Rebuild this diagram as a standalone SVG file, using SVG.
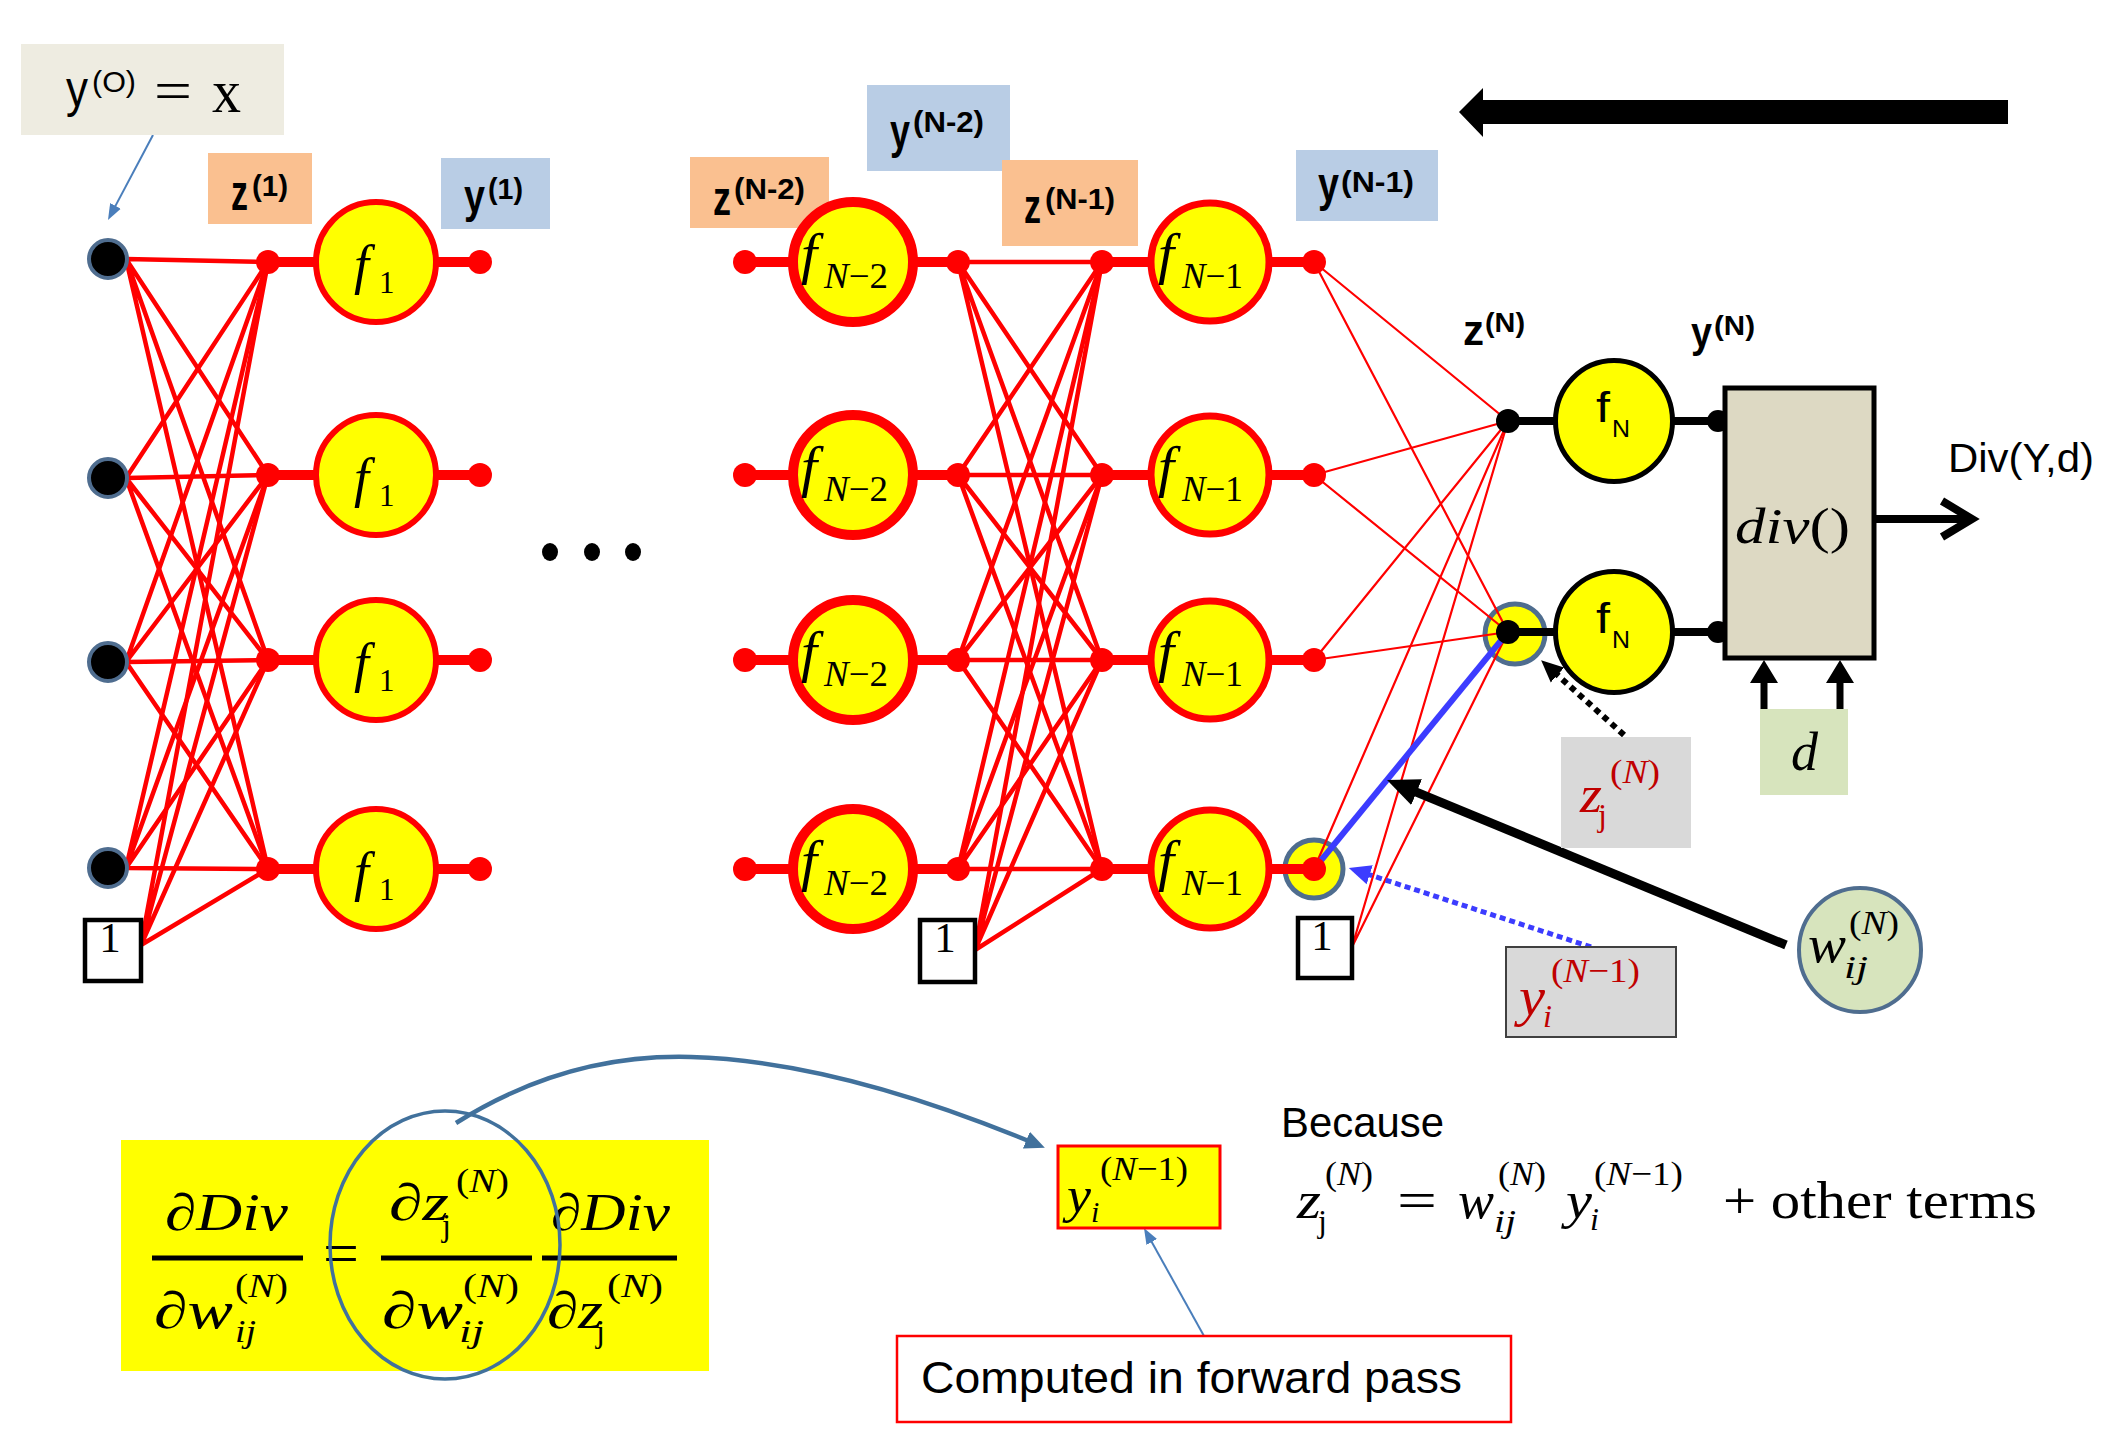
<svg xmlns="http://www.w3.org/2000/svg" width="2112" height="1447" viewBox="0 0 2112 1447">
<defs>
<style>
.sans{font-family:"Liberation Sans",Arial,sans-serif;fill:#000}
.b{font-family:"Liberation Sans",Arial,sans-serif;font-weight:bold;fill:#000}
.it{font-family:"Liberation Serif","Times New Roman",serif;font-style:italic;fill:#000}
.rm{font-family:"Liberation Serif","Times New Roman",serif;font-style:normal;fill:#000}
.dr{fill:#C00000}
.w1{stroke:#FF0000;stroke-width:4.5;fill:none}
.w2{stroke:#FF0000;stroke-width:2.2;fill:none}
.thick{stroke:#FF0000;stroke-width:10}
.thickb{stroke:#000;stroke-width:8}
.dot{fill:#FF0000}
.fc{fill:#FFFF00;stroke:#FF0000}
.fn{fill:#FFFF00;stroke:#000;stroke-width:5}
.inp{fill:#000;stroke:#4F6D8F;stroke-width:4}
.bias{fill:#fff;stroke:#000;stroke-width:4.5}
.ring{fill:#FFFF00;stroke:#4F6D8F;stroke-width:5}
.zbox{fill:#FAC090}
.ybox{fill:#B9CDE5}
.gbox{fill:#D9D9D9}
.bar{stroke:#000;stroke-width:5}
</style>
<marker id="ahK" markerUnits="userSpaceOnUse" markerWidth="34" markerHeight="30" refX="12" refY="15" orient="auto"><path d="M0,1 L32,15 L0,29 z" fill="#000"/></marker>
<marker id="ahKs" markerUnits="userSpaceOnUse" markerWidth="24" markerHeight="22" refX="6" refY="11" orient="auto"><path d="M0,1 L22,11 L0,21 z" fill="#000"/></marker>
<marker id="ahB" markerUnits="userSpaceOnUse" markerWidth="24" markerHeight="22" refX="6" refY="11" orient="auto"><path d="M0,1 L22,11 L0,21 z" fill="#3C3CFF"/></marker>
<marker id="ahT" markerUnits="userSpaceOnUse" markerWidth="18" markerHeight="14" refX="4" refY="7" orient="auto"><path d="M0,1 L16,7 L0,13 z" fill="#4A7EBB"/></marker>
<marker id="ahC" markerUnits="userSpaceOnUse" markerWidth="22" markerHeight="20" refX="5" refY="10" orient="auto"><path d="M0,1 L20,10 L0,19 z" fill="#41719C"/></marker>
</defs>
<rect width="2112" height="1447" fill="#fff"/>

<g id="ring-y">
<circle class="ring" cx="1314" cy="869" r="29"/>
</g>
<g id="ring-z">
<circle class="ring" cx="1515" cy="634" r="30"/>
</g>

<g id="connectors">
<g class="w1">
<path d="M126,259L268,262M126,259L268,475M126,259L268,660M126,259L268,869"/>
<path d="M126,478L268,262M126,478L268,475M126,478L268,660M126,478L268,869"/>
<path d="M126,662L268,262M126,662L268,475M126,662L268,660M126,662L268,869"/>
<path d="M126,868L268,262M126,868L268,475M126,868L268,660M126,868L268,869"/>
<path d="M141,945L268,262M141,945L268,475M141,945L268,660M141,945L268,869"/>
</g>
<g class="w1">
<path d="M958,262L1102,262M958,262L1102,475M958,262L1102,660M958,262L1102,869"/>
<path d="M958,475L1102,262M958,475L1102,475M958,475L1102,660M958,475L1102,869"/>
<path d="M958,660L1102,262M958,660L1102,475M958,660L1102,660M958,660L1102,869"/>
<path d="M958,869L1102,262M958,869L1102,475M958,869L1102,660M958,869L1102,869"/>
<path d="M975,950L1102,262M975,950L1102,475M975,950L1102,660M975,950L1102,869"/>
</g>
<g class="w2">
<path d="M1314,262L1508,421M1314,262L1508,632"/>
<path d="M1314,475L1508,421M1314,475L1508,632"/>
<path d="M1314,660L1508,421M1314,660L1508,632"/>
<path d="M1314,869L1508,421M1314,869L1508,632"/>
<path d="M1352,947L1508,421M1352,947L1508,632"/>
</g>
<g class="thick">
<path d="M268,262H480M268,475H480M268,660H480M268,869H480"/>
<path d="M745,262H958M745,475H958M745,660H958M745,869H958"/>
<path d="M1102,262H1314M1102,475H1314M1102,660H1314M1102,869H1314"/>
</g>
<g class="thickb">
<path d="M1508,421H1725M1508,632H1725"/>
</g>
<line x1="1314" y1="869" x2="1508" y2="632" stroke="#3C3CFF" stroke-width="6"/>
<line x1="153" y1="135" x2="113.6" y2="209.4" stroke="#4A7EBB" stroke-width="2" marker-end="url(#ahT)"/>
<line x1="1786" y1="945" x2="1405.5" y2="787.6" stroke="#000" stroke-width="9" marker-end="url(#ahK)"/>
<line x1="1624" y1="735" x2="1553" y2="671" stroke="#000" stroke-width="6" stroke-dasharray="6 5" marker-end="url(#ahKs)"/>
<line x1="1591" y1="947" x2="1364" y2="873" stroke="#3C3CFF" stroke-width="5" stroke-dasharray="6 4" marker-end="url(#ahB)"/>
<path d="M456,1123 C540,1070 620,1055 691,1057 C800,1060 920,1096 1031,1142" fill="none" stroke="#41719C" stroke-width="4.5" marker-end="url(#ahC)"/>
<line x1="1204" y1="1336" x2="1149.8" y2="1238.5" stroke="#4A7EBB" stroke-width="2" marker-end="url(#ahT)"/>
<line x1="1874" y1="519" x2="1968" y2="519" stroke="#000" stroke-width="8"/>
<polyline points="1942,501 1972,519 1942,537" fill="none" stroke="#000" stroke-width="8"/>
<path d="M1764,709V678M1840,709V678" stroke="#000" stroke-width="7"/>
<path d="M1764,660L1778,683L1750,683z M1840,660L1854,683L1826,683z" fill="#000"/>
<polygon points="1459,112 1483,88 1483,100 2008,100 2008,124 1483,124 1483,137" fill="#000"/>
</g>

<g id="label-y0">
<rect x="21" y="44" width="263" height="91" fill="#EEECE1"/>
<text class="sans" x="66" y="106" font-size="52" textLength="22" lengthAdjust="spacingAndGlyphs">y</text>
<text class="sans" x="92" y="92" font-size="30" textLength="44" lengthAdjust="spacingAndGlyphs">(O)</text>
<text class="rm" x="154" y="110" font-size="58" textLength="38" lengthAdjust="spacingAndGlyphs">=</text>
<text class="rm" x="212" y="112" font-size="62" textLength="29" lengthAdjust="spacingAndGlyphs">x</text>
</g>
<g id="label-z1">
<rect class="zbox" x="208" y="153" width="104" height="71"/>
<text class="b" x="231" y="210" font-size="50" textLength="17" lengthAdjust="spacingAndGlyphs">z</text>
<text class="b" x="252" y="196" font-size="30" textLength="36" lengthAdjust="spacingAndGlyphs">(1)</text>
</g>
<g id="label-y1">
<rect class="ybox" x="441" y="158" width="109" height="71"/>
<text class="b" x="464" y="212" font-size="46" textLength="21" lengthAdjust="spacingAndGlyphs">y</text>
<text class="b" x="488" y="199" font-size="30" textLength="35" lengthAdjust="spacingAndGlyphs">(1)</text>
</g>
<g id="label-zN2">
<rect class="zbox" x="690" y="157" width="139" height="71"/>
<text class="b" x="713" y="215" font-size="48" textLength="18" lengthAdjust="spacingAndGlyphs">z</text>
<text class="b" x="734" y="199" font-size="30" textLength="71" lengthAdjust="spacingAndGlyphs">(N-2)</text>
</g>
<g id="label-yN2">
<rect class="ybox" x="867" y="85" width="143" height="86"/>
<text class="b" x="890" y="148" font-size="48" textLength="20" lengthAdjust="spacingAndGlyphs">y</text>
<text class="b" x="913" y="132" font-size="30" textLength="71" lengthAdjust="spacingAndGlyphs">(N-2)</text>
</g>
<g id="label-zN1">
<rect class="zbox" x="1002" y="160" width="136" height="86"/>
<text class="b" x="1024" y="223" font-size="48" textLength="17" lengthAdjust="spacingAndGlyphs">z</text>
<text class="b" x="1045" y="209" font-size="30" textLength="70" lengthAdjust="spacingAndGlyphs">(N-1)</text>
</g>
<g id="label-yN1">
<rect class="ybox" x="1296" y="150" width="142" height="71"/>
<text class="b" x="1318" y="201" font-size="48" textLength="21" lengthAdjust="spacingAndGlyphs">y</text>
<text class="b" x="1341" y="192" font-size="30" textLength="73" lengthAdjust="spacingAndGlyphs">(N-1)</text>
</g>
<g id="label-zN">
<text class="b" x="1463" y="345" font-size="42" textLength="21" lengthAdjust="spacingAndGlyphs">z</text>
<text class="b" x="1485" y="332" font-size="28" textLength="40" lengthAdjust="spacingAndGlyphs">(N)</text>
</g>
<g id="label-yN">
<text class="b" x="1691" y="347" font-size="42" textLength="21" lengthAdjust="spacingAndGlyphs">y</text>
<text class="b" x="1714" y="335" font-size="28" textLength="41" lengthAdjust="spacingAndGlyphs">(N)</text>
</g>

<g id="input-1"><circle class="inp" cx="108" cy="259" r="19"/></g>
<g id="input-2"><circle class="inp" cx="108" cy="478" r="19"/></g>
<g id="input-3"><circle class="inp" cx="108" cy="662" r="19"/></g>
<g id="input-4"><circle class="inp" cx="108" cy="868" r="19"/></g>
<g id="bias-1"><rect class="bias" x="85" y="920" width="56" height="61"/><text class="rm" x="110" y="952" font-size="43" text-anchor="middle">1</text></g>

<g id="layer1-row1"><circle class="dot" cx="268" cy="262" r="12"/><circle class="fc" stroke-width="6" cx="376" cy="262" r="60"/><circle class="dot" cx="480" cy="262" r="12"/>
<text class="it" x="354" y="283" font-size="54">f</text><text class="rm" x="379" y="293" font-size="31">1</text></g>
<g id="layer1-row2"><circle class="dot" cx="268" cy="475" r="12"/><circle class="fc" stroke-width="6" cx="376" cy="475" r="60"/><circle class="dot" cx="480" cy="475" r="12"/>
<text class="it" x="354" y="496" font-size="54">f</text><text class="rm" x="379" y="506" font-size="31">1</text></g>
<g id="layer1-row3"><circle class="dot" cx="268" cy="660" r="12"/><circle class="fc" stroke-width="6" cx="376" cy="660" r="60"/><circle class="dot" cx="480" cy="660" r="12"/>
<text class="it" x="354" y="681" font-size="54">f</text><text class="rm" x="379" y="691" font-size="31">1</text></g>
<g id="layer1-row4"><circle class="dot" cx="268" cy="869" r="12"/><circle class="fc" stroke-width="6" cx="376" cy="869" r="60"/><circle class="dot" cx="480" cy="869" r="12"/>
<text class="it" x="354" y="890" font-size="54">f</text><text class="rm" x="379" y="900" font-size="31">1</text></g>

<g id="ellipsis"><ellipse cx="550" cy="552" rx="8" ry="9"/><ellipse cx="592" cy="552" rx="8" ry="9"/><ellipse cx="633" cy="552" rx="8" ry="9"/></g>

<g id="layerN2-row1"><circle class="dot" cx="745" cy="262" r="12"/><circle class="fc" stroke-width="10" cx="853" cy="262" r="60"/><circle class="dot" cx="958" cy="262" r="12"/>
<text class="it" x="801" y="273" font-size="58">f</text><text class="rm" x="824" y="288" font-size="35" textLength="64" lengthAdjust="spacingAndGlyphs"><tspan font-style="italic">N</tspan>−2</text></g>
<g id="layerN2-row2"><circle class="dot" cx="745" cy="475" r="12"/><circle class="fc" stroke-width="10" cx="853" cy="475" r="60"/><circle class="dot" cx="958" cy="475" r="12"/>
<text class="it" x="801" y="486" font-size="58">f</text><text class="rm" x="824" y="501" font-size="35" textLength="64" lengthAdjust="spacingAndGlyphs"><tspan font-style="italic">N</tspan>−2</text></g>
<g id="layerN2-row3"><circle class="dot" cx="745" cy="660" r="12"/><circle class="fc" stroke-width="10" cx="853" cy="660" r="60"/><circle class="dot" cx="958" cy="660" r="12"/>
<text class="it" x="801" y="671" font-size="58">f</text><text class="rm" x="824" y="686" font-size="35" textLength="64" lengthAdjust="spacingAndGlyphs"><tspan font-style="italic">N</tspan>−2</text></g>
<g id="layerN2-row4"><circle class="dot" cx="745" cy="869" r="12"/><circle class="fc" stroke-width="10" cx="853" cy="869" r="60"/><circle class="dot" cx="958" cy="869" r="12"/>
<text class="it" x="801" y="880" font-size="58">f</text><text class="rm" x="824" y="895" font-size="35" textLength="64" lengthAdjust="spacingAndGlyphs"><tspan font-style="italic">N</tspan>−2</text></g>
<g id="bias-2"><rect class="bias" x="920" y="920" width="55" height="62"/><text class="rm" x="945" y="952" font-size="43" text-anchor="middle">1</text></g>

<g id="layerN1-row1"><circle class="dot" cx="1102" cy="262" r="12"/><circle class="fc" stroke-width="7" cx="1210" cy="262" r="59"/><circle class="dot" cx="1314" cy="262" r="12"/>
<text class="it" x="1158" y="273" font-size="58">f</text><text class="rm" x="1182" y="288" font-size="35" textLength="61" lengthAdjust="spacingAndGlyphs"><tspan font-style="italic">N</tspan>−1</text></g>
<g id="layerN1-row2"><circle class="dot" cx="1102" cy="475" r="12"/><circle class="fc" stroke-width="7" cx="1210" cy="475" r="59"/><circle class="dot" cx="1314" cy="475" r="12"/>
<text class="it" x="1158" y="486" font-size="58">f</text><text class="rm" x="1182" y="501" font-size="35" textLength="61" lengthAdjust="spacingAndGlyphs"><tspan font-style="italic">N</tspan>−1</text></g>
<g id="layerN1-row3"><circle class="dot" cx="1102" cy="660" r="12"/><circle class="fc" stroke-width="7" cx="1210" cy="660" r="59"/><circle class="dot" cx="1314" cy="660" r="12"/>
<text class="it" x="1158" y="671" font-size="58">f</text><text class="rm" x="1182" y="686" font-size="35" textLength="61" lengthAdjust="spacingAndGlyphs"><tspan font-style="italic">N</tspan>−1</text></g>
<g id="layerN1-row4"><circle class="dot" cx="1102" cy="869" r="12"/><circle class="fc" stroke-width="7" cx="1210" cy="869" r="59"/><circle class="dot" cx="1314" cy="869" r="12"/>
<text class="it" x="1158" y="880" font-size="58">f</text><text class="rm" x="1182" y="895" font-size="35" textLength="61" lengthAdjust="spacingAndGlyphs"><tspan font-style="italic">N</tspan>−1</text></g>
<g id="bias-3"><rect class="bias" x="1298" y="918" width="54" height="60"/><text class="rm" x="1322" y="950" font-size="43" text-anchor="middle">1</text></g>

<g id="layerN-row1"><circle cx="1508" cy="421" r="12" fill="#000"/><ellipse class="fn" cx="1614" cy="421" rx="58.5" ry="60.5"/><circle cx="1718" cy="421" r="11" fill="#000"/>
<text class="sans" x="1596" y="422" font-size="42" textLength="14" lengthAdjust="spacingAndGlyphs">f</text><text class="sans" x="1612" y="437" font-size="24" textLength="18" lengthAdjust="spacingAndGlyphs">N</text></g>
<g id="layerN-row2"><circle cx="1508" cy="632" r="12" fill="#000"/><ellipse class="fn" cx="1614" cy="632" rx="58.5" ry="60.5"/><circle cx="1718" cy="632" r="11" fill="#000"/>
<text class="sans" x="1596" y="633" font-size="42" textLength="14" lengthAdjust="spacingAndGlyphs">f</text><text class="sans" x="1612" y="648" font-size="24" textLength="18" lengthAdjust="spacingAndGlyphs">N</text></g>
<g id="div-box"><rect x="1725" y="388" width="149" height="270" fill="#DDD9C3" stroke="#000" stroke-width="5"/>
<text class="it" x="1735" y="543" font-size="50" textLength="115" lengthAdjust="spacingAndGlyphs">div<tspan font-style="normal">()</tspan></text></g>
<g id="d-box"><rect x="1760" y="709" width="88" height="86" fill="#D7E4BD"/><text class="it" x="1791" y="770" font-size="54">d</text></g>
<g id="div-output"><text class="sans" x="1948" y="472" font-size="40" textLength="146" lengthAdjust="spacingAndGlyphs">Div(Y,d)</text></g>

<g id="label-zj">
<rect class="gbox" x="1561" y="737" width="130" height="111"/>
<text class="it dr" x="1580" y="812" font-size="52" textLength="22" lengthAdjust="spacingAndGlyphs">z</text>
<text class="rm dr" x="1598" y="826" font-size="32">j</text>
<text class="rm dr" x="1610" y="783" font-size="34" textLength="50" lengthAdjust="spacingAndGlyphs">(<tspan font-style="italic">N</tspan>)</text>
</g>
<g id="label-yi">
<rect class="gbox" x="1506" y="947" width="170" height="90" stroke="#404040" stroke-width="2"/>
<text class="it dr" x="1519" y="1015" font-size="54" textLength="26" lengthAdjust="spacingAndGlyphs">y</text>
<text class="it dr" x="1543" y="1027" font-size="32">i</text>
<text class="rm dr" x="1551" y="982" font-size="34" textLength="89" lengthAdjust="spacingAndGlyphs">(<tspan font-style="italic">N</tspan>−1)</text>
</g>
<g id="label-w">
<ellipse cx="1860" cy="950" rx="61" ry="62" fill="#D7E4BD" stroke="#4F6D8F" stroke-width="4"/>
<text class="it" x="1808" y="962" font-size="52" textLength="38" lengthAdjust="spacingAndGlyphs">w</text>
<text class="it" x="1844" y="978" font-size="32" textLength="24" lengthAdjust="spacingAndGlyphs">ij</text>
<text class="rm" x="1849" y="934" font-size="34" textLength="50" lengthAdjust="spacingAndGlyphs">(<tspan font-style="italic">N</tspan>)</text>
</g>

<g id="formula">
<rect x="121" y="1140" width="588" height="231" fill="#FFFF00"/>
<text class="it" x="165" y="1230" font-size="52" textLength="123" lengthAdjust="spacingAndGlyphs">∂Div</text>
<line class="bar" x1="152" y1="1258" x2="303" y2="1258"/>
<text class="it" x="154" y="1328" font-size="52" textLength="79" lengthAdjust="spacingAndGlyphs">∂w</text>
<text class="it" x="235" y="1342" font-size="32" textLength="21" lengthAdjust="spacingAndGlyphs">ij</text>
<text class="rm" x="235" y="1297" font-size="34" textLength="53" lengthAdjust="spacingAndGlyphs">(<tspan font-style="italic">N</tspan>)</text>
<text class="rm" x="341" y="1273" font-size="60" text-anchor="middle" textLength="36" lengthAdjust="spacingAndGlyphs">=</text>
<text class="it" x="389" y="1220" font-size="52" textLength="60" lengthAdjust="spacingAndGlyphs">∂z</text>
<text class="rm" x="442" y="1236" font-size="32">j</text>
<text class="rm" x="456" y="1192" font-size="34" textLength="53" lengthAdjust="spacingAndGlyphs">(<tspan font-style="italic">N</tspan>)</text>
<line class="bar" x1="381" y1="1258" x2="532" y2="1258"/>
<text class="it" x="382" y="1328" font-size="52" textLength="81" lengthAdjust="spacingAndGlyphs">∂w</text>
<text class="it" x="459" y="1342" font-size="32" textLength="25" lengthAdjust="spacingAndGlyphs">ij</text>
<text class="rm" x="463" y="1297" font-size="34" textLength="56" lengthAdjust="spacingAndGlyphs">(<tspan font-style="italic">N</tspan>)</text>
<text class="it" x="551" y="1230" font-size="52" textLength="119" lengthAdjust="spacingAndGlyphs">∂Div</text>
<line class="bar" x1="542" y1="1258" x2="677" y2="1258"/>
<text class="it" x="547" y="1328" font-size="52" textLength="56" lengthAdjust="spacingAndGlyphs">∂z</text>
<text class="rm" x="596" y="1342" font-size="32">j</text>
<text class="rm" x="607" y="1297" font-size="34" textLength="56" lengthAdjust="spacingAndGlyphs">(<tspan font-style="italic">N</tspan>)</text>
<ellipse cx="445" cy="1245" rx="115" ry="134" fill="none" stroke="#41719C" stroke-width="3.5"/>
</g>

<g id="y-forward">
<rect x="1058" y="1146" width="162" height="82" fill="#FFFF00" stroke="#FF0000" stroke-width="3"/>
<text class="it" x="1067" y="1212" font-size="50" textLength="24" lengthAdjust="spacingAndGlyphs">y</text>
<text class="it" x="1091" y="1222" font-size="30">i</text>
<text class="rm" x="1100" y="1180" font-size="34" textLength="88" lengthAdjust="spacingAndGlyphs">(<tspan font-style="italic">N</tspan>−1)</text>
</g>
<g id="computed-note">
<rect x="897" y="1336" width="614" height="86" fill="#fff" stroke="#FF0000" stroke-width="2.5"/>
<text class="sans" x="921" y="1393" font-size="44" textLength="541" lengthAdjust="spacingAndGlyphs">Computed in forward pass</text>
</g>
<g id="because">
<text class="sans" x="1281" y="1137" font-size="42" textLength="163" lengthAdjust="spacingAndGlyphs">Because</text>
<text class="it" x="1297" y="1218" font-size="52" textLength="24" lengthAdjust="spacingAndGlyphs">z</text>
<text class="rm" x="1318" y="1232" font-size="32">j</text>
<text class="rm" x="1325" y="1185" font-size="34" textLength="48" lengthAdjust="spacingAndGlyphs">(<tspan font-style="italic">N</tspan>)</text>
<text class="rm" x="1397" y="1218" font-size="52" textLength="40" lengthAdjust="spacingAndGlyphs">=</text>
<text class="it" x="1458" y="1218" font-size="52" textLength="36" lengthAdjust="spacingAndGlyphs">w</text>
<text class="it" x="1494" y="1232" font-size="32" textLength="22" lengthAdjust="spacingAndGlyphs">ij</text>
<text class="rm" x="1498" y="1185" font-size="34" textLength="48" lengthAdjust="spacingAndGlyphs">(<tspan font-style="italic">N</tspan>)</text>
<text class="it" x="1566" y="1218" font-size="52" textLength="26" lengthAdjust="spacingAndGlyphs">y</text>
<text class="it" x="1590" y="1230" font-size="32">i</text>
<text class="rm" x="1594" y="1185" font-size="34" textLength="89" lengthAdjust="spacingAndGlyphs">(<tspan font-style="italic">N</tspan>−1)</text>
<text class="rm" x="1723" y="1218" font-size="52" textLength="314" lengthAdjust="spacingAndGlyphs">+ other terms</text>
</g>
</svg>
